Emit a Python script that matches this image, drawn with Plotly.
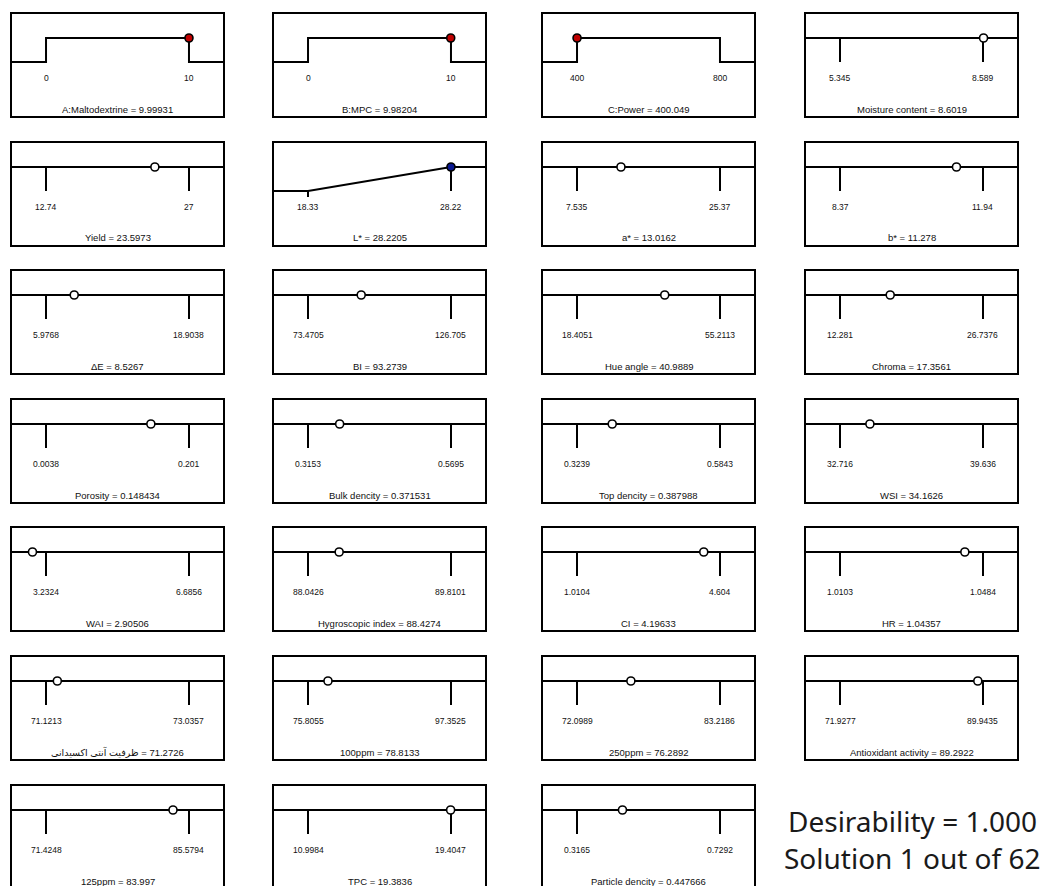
import plotly.graph_objects as go

# ---------------- data ----------------
names = ["A:Maltodextrine", "B:MPC", "C:Power", "Moisture content",
         "Yield", "L*", "a*", "b*",
         "ΔE", "BI", "Hue angle", "Chroma",
         "Porosity", "Bulk dencity", "Top dencity", "WSI",
         "WAI", "Hygroscopic index", "CI", "HR",
         "ظرفیت آنتی اکسیدانی\u200e", "100ppm", "250ppm", "Antioxidant activity",
         "125ppm", "TPC", "Particle dencity"]
lows = [0, 0, 400, 5.345,
        12.74, 18.33, 7.535, 8.37,
        5.9768, 73.4705, 18.4051, 12.281,
        0.0038, 0.3153, 0.3239, 32.716,
        3.2324, 88.0426, 1.0104, 1.0103,
        71.1213, 75.8055, 72.0989, 71.9277,
        71.4248, 10.9984, 0.3165]
highs = [10, 10, 800, 8.589,
         27, 28.22, 25.37, 11.94,
         18.9038, 126.705, 55.2113, 26.7376,
         0.201, 0.5695, 0.5843, 39.636,
         6.6856, 89.8101, 4.604, 1.0484,
         73.0357, 97.3525, 83.2186, 89.9435,
         85.5794, 19.4047, 0.7292]
values = [9.99931, 9.98204, 400.049, 8.6019,
          23.5973, 28.2205, 13.0162, 11.278,
          8.5267, 93.2739, 40.9889, 17.3561,
          0.148434, 0.371531, 0.387988, 34.1626,
          2.90506, 88.4274, 4.19633, 1.04357,
          71.2726, 78.8133, 76.2892, 89.2922,
          83.997, 19.3836, 0.447666]
goals = ["range", "range", "range", "none",
         "none", "max", "none", "none",
         "none", "none", "none", "none",
         "none", "none", "none", "none",
         "none", "none", "none", "none",
         "none", "none", "none", "none",
         "none", "none", "none"]
desirability_text = "Desirability = 1.000"
solution_text = "Solution 1 out of 62"

# ---------------- layout constants ----------------
OFF = 8                      # page body margin
W, H = 1048 - OFF, 886 - OFF
COL_LEFT = [11 - OFF, 273 - OFF, 542 - OFF, 805 - OFF]
ROW_TOP = [t - OFF for t in (13, 142, 270, 399, 527, 656, 785)]
BOX_W, BOX_H = 213, 104
HI_OFF = 25      # px from top of box to desirability 1
PX = 24          # px per desirability unit
PAD = 0.245      # fraction of span padded on each side
LBL_OFF = 65     # px from top to tick labels
TTL_OFF = 96     # px from top to title
marker_colors = {"range": "#c00000", "max": "#0a1890", "none": "white"}
FONT = "Liberation Sans, Arial, DejaVu Sans, sans-serif"

fig = go.Figure()
layout = {}
annotations = []
shapes = []

for i, name in enumerate(names):
    r, c = divmod(i, 4)
    k = i + 1
    xa = "x" if k == 1 else f"x{k}"
    ya = "y" if k == 1 else f"y{k}"
    lo, hi, v, g = lows[i], highs[i], values[i], goals[i]
    span = hi - lo
    xmin, xmax = lo - PAD * span, hi + PAD * span

    top = ROW_TOP[r]
    bot = min(top + BOX_H, H)
    y_top_val = 1 + HI_OFF / PX
    y_bot_val = 1 - (bot - top - HI_OFF) / PX
    layout["xaxis" if k == 1 else f"xaxis{k}"] = dict(
        domain=[COL_LEFT[c] / W, (COL_LEFT[c] + BOX_W) / W], range=[xmin, xmax],
        visible=False, anchor=ya, fixedrange=True)
    layout["yaxis" if k == 1 else f"yaxis{k}"] = dict(
        domain=[1 - bot / H, 1 - top / H], range=[y_bot_val, y_top_val],
        visible=False, anchor=xa, fixedrange=True)

    # frame
    shapes.append(dict(type="rect", xref="paper", yref="paper",
                       x0=COL_LEFT[c] / W, x1=(COL_LEFT[c] + BOX_W) / W,
                       y0=1 - (top + BOX_H) / H, y1=1 - top / H,
                       line=dict(color="black", width=2)))

    line = dict(color="black", width=2)
    if g == "range":
        fig.add_trace(go.Scatter(x=[xmin, lo, lo, hi, hi, xmax], y=[0, 0, 1, 1, 0, 0],
                                 mode="lines", line=line, xaxis=xa, yaxis=ya,
                                 hoverinfo="skip", showlegend=False))
    elif g == "max":
        fig.add_trace(go.Scatter(x=[xmin, lo, hi, xmax], y=[0, 0, 1, 1],
                                 mode="lines", line=line, xaxis=xa, yaxis=ya,
                                 hoverinfo="skip", showlegend=False))
        fig.add_trace(go.Scatter(x=[lo, lo, None, hi, hi], y=[0, -0.25, None, 1, 0],
                                 mode="lines", line=line, xaxis=xa, yaxis=ya,
                                 hoverinfo="skip", showlegend=False))
    else:
        fig.add_trace(go.Scatter(x=[xmin, xmax], y=[1, 1],
                                 mode="lines", line=line, xaxis=xa, yaxis=ya,
                                 hoverinfo="skip", showlegend=False))
        fig.add_trace(go.Scatter(x=[lo, lo, None, hi, hi], y=[1, 0, None, 1, 0],
                                 mode="lines", line=line, xaxis=xa, yaxis=ya,
                                 hoverinfo="skip", showlegend=False))

    fig.add_trace(go.Scatter(x=[v], y=[1], mode="markers", xaxis=xa, yaxis=ya,
                             marker=dict(size=8, color=marker_colors[g],
                                         line=dict(color="black", width=1.6)),
                             cliponaxis=False, hoverinfo="skip", showlegend=False))

    for t in (lo, hi):
        annotations.append(dict(x=t, y=1 - (LBL_OFF - HI_OFF) / PX, xref=xa, yref=ya,
                                text=f"{t:g}", showarrow=False,
                                xanchor="center", yanchor="middle",
                                font=dict(size=8.5, color="#111", family=FONT)))
    annotations.append(dict(x=0.5, y=1 - (TTL_OFF - HI_OFF) / PX,
                            xref=f"{xa} domain", yref=ya,
                            text=f"{name} = {v:g}", showarrow=False,
                            xanchor="center", yanchor="middle",
                            font=dict(size=9.5, color="#111", family=FONT)))

BIG = "Noto Sans, Open Sans, sans-serif"
annotations.append(dict(x=(912 - OFF) / W, y=1 - (821 - OFF) / H, xref="paper", yref="paper",
                        text=desirability_text, showarrow=False,
                        xanchor="center", yanchor="middle",
                        font=dict(size=28, color="#1a1a1a", family=BIG)))
annotations.append(dict(x=(912 - OFF) / W, y=1 - (858 - OFF) / H, xref="paper", yref="paper",
                        text=solution_text, showarrow=False,
                        xanchor="center", yanchor="middle",
                        font=dict(size=28, color="#1a1a1a", family=BIG)))

fig.update_layout(**layout)
fig.update_layout(width=W, height=H, margin=dict(l=0, r=0, t=0, b=0),
                  paper_bgcolor="white", plot_bgcolor="white",
                  annotations=annotations, shapes=shapes, showlegend=False)
fig.write_html("out.html", config={"displayModeBar": False})
